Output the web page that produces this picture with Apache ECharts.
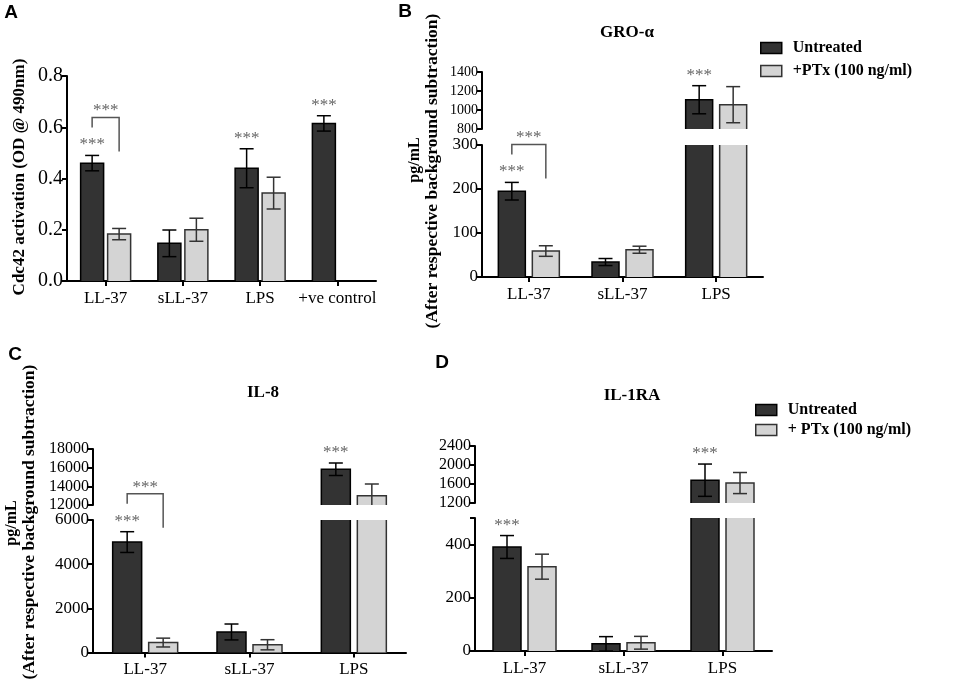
<!DOCTYPE html>
<html><head><meta charset="utf-8">
<script src="https://cdn.jsdelivr.net/npm/echarts@6/dist/echarts.min.js"></script>
<style>html,body{margin:0;padding:0;background:#fff}#c{width:965px;height:686px}</style>
</head><body><div id="c"></div>
<script>
// ---------------- data ----------------
const catsA = ['LL-37', 'sLL-37', 'LPS', '+ve control'];
const untreatedA = [0.46, 0.147, 0.44, 0.615];
const untreatedErrA = [0.03, 0.052, 0.076, 0.03];
const ptxA = [0.183, 0.2, 0.343, null];
const ptxErrA = [0.022, 0.045, 0.062, null];

const cats = ['LL-37', 'sLL-37', 'LPS'];
const untreatedB = [195, 34, 1108];
const untreatedErrB = [20, 8, 148];
const ptxB = [59, 62, 1056];
const ptxErrB = [12, 8, 190];

const untreatedC = [5000, 930, 15830];
const untreatedErrC = [470, 360, 670];
const ptxC = [450, 350, 13000];
const ptxErrC = [200, 230, 1250];

const untreatedD = [391, 27, 1680];
const untreatedErrD = [43, 27, 340];
const ptxD = [317, 31, 1620];
const ptxErrD = [47, 24, 222];

// axis ranges [min, max, interval]
const axisA = [0, 0.8, 0.2];
const lowerB = [0, 300, 100], upperB = [800, 1400, 200];
const lowerC = [0, 6000, 2000], upperC = [12000, 18000, 2000];
const lowerD = [0, 500, 200], upperD = [1200, 2400, 400];

// significance marks (category indices)
const starsA = [0, 2, 3], bracketA = [0];
const starsB = [0, 2], bracketB = [0];
const starsC = [0, 2], bracketC = [0];
const starsD = [0, 2], bracketD = [];

const titles = ['GRO-α', 'IL-8', 'IL-1RA'];
const yTitleA = 'Cdc42 activation (OD @ 490nm)';
const yTitle1 = 'pg/mL';
const yTitle2 = '(After respective background subtraction)';
const seriesNames = ['Untreated', '+PTx (100 ng/ml)', '+ PTx (100 ng/ml)'];

// ---------------- styling / layout ----------------
const SERIF = "'Liberation Serif','Times New Roman',serif";
const SANS = "'Liberation Sans',Arial,sans-serif";
const DARK = '#333333', LIGHT = '#d4d4d4';
const DARK_EDGE = '#000', LIGHT_EDGE = '#333';

const panels = [
  {cats: catsA, u: untreatedA, ue: untreatedErrA, p: ptxA, pe: ptxErrA, ptxName: seriesNames[1],
   stars: starsA, brackets: bracketA, barW: 23, gap: 4, catFont: 17, dec: 1,
   segs: [{range: axisA, left: 67, top: 76, width: 309, height: 205, lower: true, font: 20}]},
  {cats: cats, u: untreatedB, ue: untreatedErrB, p: ptxB, pe: ptxErrB, ptxName: seriesNames[1],
   stars: starsB, brackets: bracketB, barW: 27, gap: 7, catFont: 17, dec: 0,
   segs: [{range: lowerB, left: 482, top: 145, width: 281, height: 132, lower: true, font: 17},
          {range: upperB, left: 482, top: 72, width: 281, height: 57, lower: false, font: 14}]},
  {cats: cats, u: untreatedC, ue: untreatedErrC, p: ptxC, pe: ptxErrC, ptxName: seriesNames[1],
   stars: starsC, brackets: bracketC, barW: 29, gap: 7, catFont: 17, dec: 0,
   segs: [{range: lowerC, left: 93, top: 520, width: 313, height: 132.5, lower: true, font: 17},
          {range: upperC, left: 93, top: 449, width: 313, height: 56, lower: false, font: 16}]},
  {cats: cats, u: untreatedD, ue: untreatedErrD, p: ptxD, pe: ptxErrD, ptxName: seriesNames[2],
   stars: starsD, brackets: bracketD, barW: 28, gap: 7, catFont: 17, dec: 0,
   segs: [{range: lowerD, left: 475, top: 518, width: 297, height: 133, lower: true, font: 17},
          {range: upperD, left: 475, top: 446, width: 297, height: 57, lower: false, font: 16}]}
];

const grid = [], xAxis = [], yAxis = [], series = [];

panels.forEach(P => {
  const off = (P.barW + P.gap) / 2;
  const bw = P.barW;
  P.segs.forEach(s => {
    const gi = grid.length;
    const [mn, mx, iv] = s.range;
    grid.push({left: s.left, top: s.top, width: s.width, height: s.height});
    xAxis.push({
      type: 'category', gridIndex: gi, data: P.cats, show: s.lower,
      axisLine: {show: true, lineStyle: {color: '#000', width: 2}},
      axisTick: {show: true, alignWithLabel: true, length: 5, lineStyle: {color: '#000', width: 2}},
      axisLabel: {color: '#000', fontFamily: SERIF, fontSize: P.catFont, margin: 9, interval: 0},
      splitLine: {show: false}
    });
    yAxis.push({
      type: 'value', gridIndex: gi, min: mn, max: mx, interval: iv,
      splitLine: {show: false},
      axisLine: {show: true, lineStyle: {color: '#000', width: 2}},
      axisTick: {show: true, length: 5, lineStyle: {color: '#000', width: 2}},
      axisLabel: {color: '#000', fontFamily: SERIF, fontSize: s.font, margin: 4,
        formatter: v => {
          const k = (v - mn) / iv;
          if (Math.abs(k - Math.round(k)) > 1e-6) return '';
          return v.toFixed(P.dec);
        }}
    });
    // bars (custom so that broken-axis pieces have open ends)
    const barRender = (params, api) => {
      const i = api.value(0), v = api.value(1), side = api.value(2);
      if (!(v > mn)) return null;
      const top = Math.min(v, mx);
      const base = api.coord([i, mn]);
      const cx = base[0] + (side ? off : -off);
      const yB = base[1], yT = api.coord([i, top])[1];
      const xl = cx - bw / 2, xr = cx + bw / 2;
      const fill = side ? LIGHT : DARK, stroke = side ? LIGHT_EDGE : DARK_EDGE;
      const ls = {stroke: stroke, lineWidth: 1.5, fill: null};
      const ch = [{type: 'rect', shape: {x: xl, y: yT, width: bw, height: yB - yT}, style: {fill: fill}}];
      if (v <= mx) {
        ch.push({type: 'polyline', shape: {points: [[xl, yB], [xl, yT], [xr, yT], [xr, yB]]}, style: ls});
      } else {
        ch.push({type: 'line', shape: {x1: xl, y1: yB, x2: xl, y2: yT}, style: ls});
        ch.push({type: 'line', shape: {x1: xr, y1: yB, x2: xr, y2: yT}, style: ls});
      }
      return {type: 'group', children: ch};
    };
    const dData = [], lData = [];
    P.u.forEach((v, i) => { if (v != null) dData.push([i, v, 0]); });
    P.p.forEach((v, i) => { if (v != null) lData.push([i, v, 1]); });
    series.push({type: 'custom', name: seriesNames[0], xAxisIndex: gi, yAxisIndex: gi, silent: true, z: 2,
      itemStyle: {color: DARK, borderColor: DARK_EDGE, borderWidth: 1.5},
      data: dData, encode: {x: 0, y: 1}, renderItem: barRender});
    series.push({type: 'custom', name: P.ptxName, xAxisIndex: gi, yAxisIndex: gi, silent: true, z: 2,
      itemStyle: {color: LIGHT, borderColor: LIGHT_EDGE, borderWidth: 1.5},
      data: lData, encode: {x: 0, y: 1}, renderItem: barRender});
    // error bars
    const errData = [];
    P.u.forEach((v, i) => { if (v != null) errData.push([i, v, P.ue[i], 0]); });
    P.p.forEach((v, i) => { if (v != null) errData.push([i, v, P.pe[i], 1]); });
    series.push({
      type: 'custom', xAxisIndex: gi, yAxisIndex: gi, silent: true, z: 3,
      data: errData, encode: {x: 0, y: 1},
      renderItem: (params, api) => {
        const i = api.value(0), v = api.value(1), e = api.value(2), side = api.value(3);
        const lo = Math.max(v - e, mn), hi = Math.min(v + e, mx);
        if (!(hi > lo)) return null;
        const cx = api.coord([i, v])[0] + (side ? off : -off);
        const yH = api.coord([i, hi])[1], yL = api.coord([i, lo])[1];
        const st = {stroke: side ? '#333' : '#000', lineWidth: 1.5};
        const ch = [{type: 'line', shape: {x1: cx, y1: yH, x2: cx, y2: yL}, style: st}];
        if (hi === v + e) ch.push({type: 'line', shape: {x1: cx - 7, y1: yH, x2: cx + 7, y2: yH}, style: st});
        if (lo === v - e) ch.push({type: 'line', shape: {x1: cx - 7, y1: yL, x2: cx + 7, y2: yL}, style: st});
        return {type: 'group', children: ch};
      }
    });
    // significance annotations
    const annData = [];
    P.stars.forEach(i => { const t = P.u[i] + P.ue[i]; if (t >= mn && t <= mx) annData.push([i, t, 0]); });
    P.brackets.forEach(i => { const t = P.u[i] + P.ue[i]; if (t >= mn && t <= mx) annData.push([i, t, 1]); });
    if (annData.length) series.push({
      type: 'custom', xAxisIndex: gi, yAxisIndex: gi, silent: true, z: 4,
      data: annData, encode: {x: 0, y: 1},
      renderItem: (params, api) => {
        const i = api.value(0), t = api.value(1), kind = api.value(2);
        const c = api.coord([i, t]);
        const x1 = c[0] - off, x2 = c[0] + off;
        const txt = (x, y) => ({type: 'text', x: x, y: y,
          style: {text: '***', fill: '#666', font: '17px ' + SERIF, align: 'center', verticalAlign: 'bottom',
                  textAlign: 'center', textVerticalAlign: 'bottom'}});
        if (kind === 0) return txt(x1, c[1] - 2);
        const by = c[1] - 38;
        const st = {stroke: '#555', lineWidth: 1.5, fill: null};
        return {type: 'group', children: [
          {type: 'polyline', shape: {points: [[x1, by + 10], [x1, by], [x2, by], [x2, by + 34]]}, style: st},
          txt((x1 + x2) / 2, by + 2)
        ]};
      }
    });
  });
});

const textEl = (x, y, text, font, rot) => ({
  type: 'text', x: x, y: y, rotation: rot || 0, silent: true,
  style: {text: text, font: font, fill: '#000', align: 'center', verticalAlign: 'middle',
          textAlign: 'center', textVerticalAlign: 'middle'}
});
const R = Math.PI / 2;
const graphic = [
  textEl(11, 13, 'A', 'bold 19px ' + SANS),
  textEl(405, 12, 'B', 'bold 19px ' + SANS),
  textEl(15, 355, 'C', 'bold 19px ' + SANS),
  textEl(442, 363, 'D', 'bold 19px ' + SANS),
  textEl(627, 33, titles[0], 'bold 17px ' + SERIF),
  textEl(263, 393, titles[1], 'bold 17px ' + SERIF),
  textEl(632, 396, titles[2], 'bold 17px ' + SERIF),
  textEl(20, 177, yTitleA, 'bold 17px ' + SERIF, R),
  textEl(415, 160, yTitle1, 'bold 16px ' + SERIF, R),
  textEl(432, 171, yTitle2, 'bold 17.5px ' + SERIF, R),
  textEl(12, 523, yTitle1, 'bold 16px ' + SERIF, R),
  textEl(29, 522, yTitle2, 'bold 17.5px ' + SERIF, R)
];

const legendBase = {
  orient: 'vertical', icon: 'rect', itemWidth: 21, itemHeight: 11, selectedMode: false,
  padding: 0,
  textStyle: {color: '#000', fontFamily: SERIF, fontWeight: 'bold', fontSize: 16, lineHeight: 16, padding: [0, 0, 0, 6]}
};
const legItem = (name, side) => ({name: name, itemStyle: {color: side ? LIGHT : DARK,
  borderColor: side ? LIGHT_EDGE : DARK_EDGE, borderWidth: 1.5}});
const legend = [
  Object.assign({}, legendBase, {left: 760, top: 40, itemGap: 7,
    data: [legItem(seriesNames[0], 0), legItem(seriesNames[1], 1)]}),
  Object.assign({}, legendBase, {left: 755, top: 402, itemGap: 4,
    data: [legItem(seriesNames[0], 0), legItem(seriesNames[2], 1)]})
];

const chart = echarts.init(document.getElementById('c'), null, {renderer: 'canvas'});
chart.setOption({
  backgroundColor: '#fff', animation: false,
  grid, xAxis, yAxis, series, graphic, legend
});
</script></body></html>
